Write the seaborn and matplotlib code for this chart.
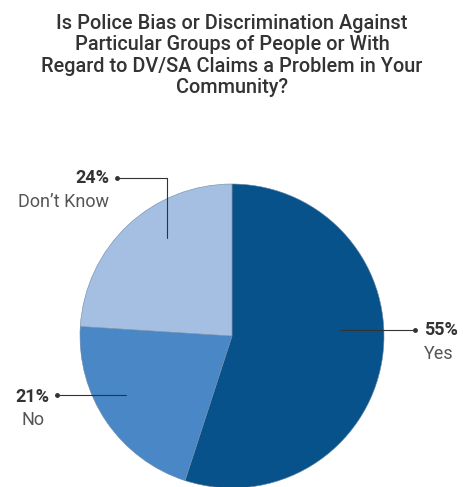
import matplotlib
matplotlib.use("Agg")
import matplotlib.pyplot as plt
import seaborn as sns

TITLE = ("Is Police Bias or Discrimination Against\n"
         "Particular Groups of People or With\n"
         "Regard to DV/SA Claims a Problem in Your\n"
         "Community?")
CATEGORIES = ["Yes", "No", "Don\u2019t Know"]
SHARES = [55, 21, 24]
COLORS = ["#07528a", "#4a87c7", "#a4bfe2"]

# label layout in pixel coords (x, y from top): line points (last gets the dot), text anchor
LABEL_LAYOUT = {
    "Yes": dict(line=[(340, 330), (415, 330)], text=(424, 330), ha="left"),
    "No": dict(line=[(126, 395), (57, 395)], text=(49, 397), ha="right"),
    "Don\u2019t Know": dict(line=[(167, 238), (167, 178), (117, 178)], text=(109, 178), ha="right"),
}

W, H = 463, 487


def main() -> None:
    sns.set_theme(style="white")
    plt.rcParams["font.family"] = ["Roboto", "DejaVu Sans"]

    fig = plt.figure(figsize=(W / 100, H / 100), dpi=100)
    ax = fig.add_axes([0, 0, 1, 1])

    ax.pie(
        SHARES,
        colors=COLORS,
        startangle=90,
        counterclock=False,
        center=(232, H - 336),
        radius=152,
        wedgeprops={"edgecolor": "#6d8aa6", "linewidth": 0.4},
        frame=True,
    )
    ax.set_xlim(0, W)
    ax.set_ylim(0, H)
    ax.set_aspect("equal")
    ax.axis("off")

    ax.text(232, H - 14, TITLE, ha="center", va="top", fontsize=14.3,
            fontweight="medium", color="#333333", linespacing=1.16)

    for cat, share in zip(CATEGORIES, SHARES):
        lay = LABEL_LAYOUT[cat]
        xs = [p[0] for p in lay["line"]]
        ys = [H - p[1] for p in lay["line"]]
        ax.plot(xs, ys, color="#333333", lw=0.8)
        ax.plot(xs[-1], ys[-1], "o", color="#333333", ms=2.5)
        tx, ty = lay["text"]
        ax.text(tx, H - ty, f"{share}%", ha=lay["ha"], va="center",
                fontsize=13, fontweight="bold", color="#333333")
        if cat == "No":
            ax.text(tx - 16, H - ty - 23, cat, ha="center", va="center",
                    fontsize=13, color="#555555")
        else:
            ax.text(tx, H - ty - 24, cat, ha=lay["ha"], va="center",
                    fontsize=13, color="#555555")

    fig.savefig("out.png", dpi=100)
    plt.close(fig)


if __name__ == "__main__":
    main()
